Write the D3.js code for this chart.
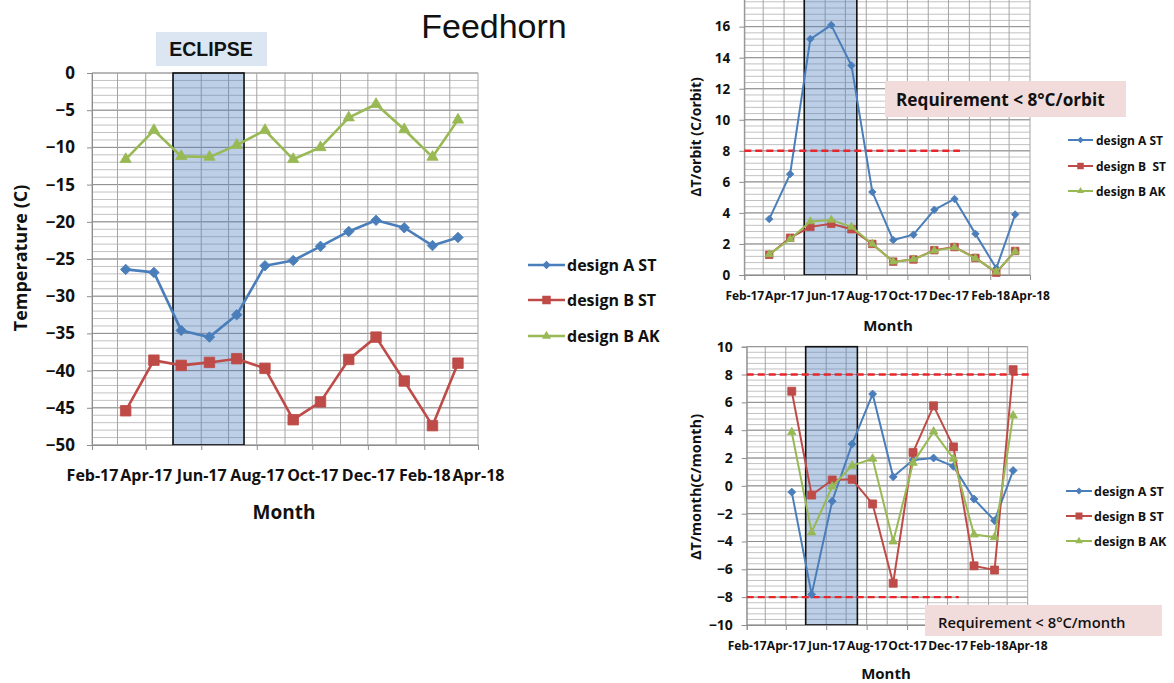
<!DOCTYPE html>
<html>
<head>
<meta charset="utf-8">
<script src="https://cdn.jsdelivr.net/npm/d3@7"></script>
<style>
  body { margin: 0; background: #fff; }
  svg { display: block; }
</style>
</head>
<body>
<svg id="fig" width="1174" height="683"></svg>
<script>
// ---- data ----------------------------------------------------------------
const seriesNames = ["design A ST", "design B ST", "design B AK"];
const orbitLegendNames = ["design A ST", "design B  ST", "design B AK"];

// monthly sample dates (temperature and per-orbit swing)
const sampleDates = ["2017-03-10", "2017-04-10", "2017-05-10", "2017-06-10", "2017-07-10",
  "2017-08-10", "2017-09-10", "2017-10-10", "2017-11-10", "2017-12-10",
  "2018-01-10", "2018-02-10", "2018-03-10"];
// month-to-month change dates
const changeDates = ["2017-04-10", "2017-05-10", "2017-06-10", "2017-07-10",
  "2017-08-10", "2017-09-10", "2017-10-10", "2017-11-10", "2017-12-10",
  "2018-01-10", "2018-02-10", "2018-03-10"];

// feedhorn temperature (C)
const tempA = [-26.4, -26.8, -34.6, -35.5, -32.5, -25.9, -25.2, -23.3, -21.3, -19.8, -20.8, -23.2, -22.1];
const tempB = [-45.4, -38.6, -39.3, -38.9, -38.4, -39.7, -46.6, -44.2, -38.5, -35.5, -41.4, -47.4, -39.0];
const tempK = [-11.6, -7.7, -11.2, -11.3, -9.7, -7.7, -11.6, -10.0, -6.0, -4.2, -7.6, -11.3, -6.3];

// temperature swing per orbit (C/orbit)
const orbitA = [3.6, 6.5, 15.2, 16.1, 13.5, 5.35, 2.25, 2.6, 4.2, 4.9, 2.65, 0.43, 3.9];
const orbitB = [1.3, 2.4, 3.1, 3.3, 2.95, 2.0, 0.86, 1.0, 1.6, 1.8, 1.1, 0.15, 1.55];
const orbitK = [1.33, 2.3, 3.45, 3.55, 3.1, 2.0, 0.86, 1.0, 1.57, 1.78, 1.07, 0.2, 1.5];

// temperature change per month (C/month)
const rateA = [-0.45, -7.8, -1.1, 3.0, 6.6, 0.65, 1.85, 2.0, 1.4, -0.95, -2.5, 1.1];
const rateB = [6.8, -0.66, 0.42, 0.47, -1.3, -7.0, 2.4, 5.75, 2.8, -5.75, -6.05, 8.35];
const rateK = [3.85, -3.35, -0.05, 1.45, 1.95, -4.0, 1.65, 3.9, 1.95, -3.5, -3.7, 5.05];

// axis ticks
const tickDates = ["2017-02-01", "2017-04-01", "2017-06-01", "2017-08-01",
  "2017-10-01", "2017-12-01", "2018-02-01", "2018-04-01"];
const tickLabels = ["Feb-17", "Apr-17", "Jun-17", "Aug-17", "Oct-17", "Dec-17", "Feb-18", "Apr-18"];
const tempTicks = [0, -5, -10, -15, -20, -25, -30, -35, -40, -45, -50];
const orbitTicks = [0, 2, 4, 6, 8, 10, 12, 14, 16, 18];
const rateTicks = [-10, -8, -6, -4, -2, 0, 2, 4, 6, 8, 10];

// eclipse season and requirement limits
const eclipse = ["2017-05-01", "2017-07-18"];
const orbitLimit = { value: 8, from: "2017-02-01", to: "2017-12-18" };
const rateLimits = [
  { value: 8, from: "2017-02-01", to: "2018-04-04" },
  { value: -8, from: "2017-02-01", to: "2017-12-18" }
];

// ---- drawing ---------------------------------------------------------------
const parse = d3.timeParse("%Y-%m-%d");
const FONT = "'Open Sans', 'Noto Sans', sans-serif";
const colors = ["#4A7EBB", "#BE4B48", "#98B954"];
const symbols = ["diamond", "square", "triangle"];
const svg = d3.select("#fig");

function markerPath(kind, s) {
  if (kind === "diamond") return d3.symbol().type(d3.symbolSquare).size(s * s / 2)();
  if (kind === "square") return d3.symbol().type(d3.symbolSquare).size(s * s)();
  return d3.symbol().type(d3.symbolTriangle).size(0.433 * s * s * 1.15)();
}
function markerTransform(kind, x, y) {
  return kind === "diamond" ? `translate(${x},${y}) rotate(45)` : `translate(${x},${y})`;
}

function drawPanel(p) {
  const g = svg.append("g");
  const x = d3.scaleTime()
    .domain([parse(tickDates[0]), parse(tickDates[tickDates.length - 1])])
    .range([p.left, p.right]);
  const y = d3.scaleLinear().domain(p.yDomain).range(p.yRange);
  const [ylo, yhi] = p.yDomain;

  // horizontal minor + major gridlines
  const minor = d3.range(ylo, yhi + 1e-6, p.minorStep);
  g.append("g").selectAll("line").data(minor).join("line")
    .attr("x1", p.left).attr("x2", p.right)
    .attr("y1", d => y(d)).attr("y2", d => y(d))
    .attr("stroke", "#c2c2c2").attr("stroke-width", 1);
  g.append("g").selectAll("line").data(p.yTicks).join("line")
    .attr("x1", p.left).attr("x2", p.right)
    .attr("y1", d => y(d)).attr("y2", d => y(d))
    .attr("stroke", "#8e8e8e").attr("stroke-width", 1);
  // vertical monthly gridlines
  const months = d3.timeMonth.range(x.domain()[0], d3.timeDay.offset(x.domain()[1], 1));
  g.append("g").selectAll("line").data(months).join("line")
    .attr("x1", d => x(d)).attr("x2", d => x(d))
    .attr("y1", y(ylo)).attr("y2", y(yhi))
    .attr("stroke", "#a4a4a4").attr("stroke-width", 1);

  // eclipse season
  g.append("rect")
    .attr("x", x(parse(eclipse[0]))).attr("y", y(yhi))
    .attr("width", x(parse(eclipse[1])) - x(parse(eclipse[0])))
    .attr("height", y(ylo) - y(yhi))
    .attr("fill", "#4F81BD").attr("fill-opacity", 0.38)
    .attr("stroke", "#111").attr("stroke-width", 1.6);

  // axes
  const ya = g.append("g").attr("transform", `translate(${p.left},0)`)
    .call(d3.axisLeft(y).tickValues(p.yTicks).tickSize(5).tickPadding(p.yPad).tickFormat(d3.format("d")));
  ya.select(".domain").attr("stroke", "#8e8e8e");
  ya.selectAll(".tick line").attr("stroke", "#8e8e8e");
  ya.selectAll("text").attr("font-family", FONT).attr("font-weight", 700)
    .attr("font-size", p.yFont).attr("fill", "#111");

  const xa = g.append("g").attr("transform", `translate(0,${y(ylo)})`)
    .call(d3.axisBottom(x).tickValues(tickDates.map(parse)).tickSize(5)
      .tickFormat((d, i) => tickLabels[i]));
  xa.select(".domain").attr("stroke", "#8e8e8e");
  xa.selectAll(".tick line").attr("stroke", "#8e8e8e");
  xa.selectAll("text").attr("font-family", FONT).attr("font-weight", 700)
    .attr("font-size", p.xFont).attr("fill", "#111")
    .attr("y", p.xLabelOffset).attr("dy", "0.35em");

  // requirement limits
  (p.limits || []).forEach(l => {
    g.append("line")
      .attr("x1", x(parse(l.from))).attr("x2", x(parse(l.to)))
      .attr("y1", y(l.value)).attr("y2", y(l.value))
      .attr("stroke", "#E8262B").attr("stroke-width", 2.4)
      .attr("stroke-dasharray", "7,4");
  });

  // series
  p.series.forEach((vals, si) => {
    const pts = vals.map((v, i) => [x(parse(p.dates[i])), y(v)]);
    g.append("path").attr("d", d3.line()(pts))
      .attr("fill", "none").attr("stroke", colors[si]).attr("stroke-width", p.lineWidth)
      .attr("stroke-linejoin", "round");
    g.append("g").selectAll("path").data(pts).join("path")
      .attr("d", markerPath(symbols[si], p.marker))
      .attr("transform", d => markerTransform(symbols[si], d[0], d[1]))
      .attr("fill", colors[si]).attr("stroke", colors[si]).attr("stroke-width", 0.8);
  });

  // axis titles
  g.append("text").text(p.yTitle)
    .attr("transform", `translate(${p.yTitlePos[0]},${p.yTitlePos[1]}) rotate(-90)`)
    .attr("text-anchor", "middle").attr("dominant-baseline", "central")
    .attr("font-family", FONT).attr("font-weight", 700).attr("font-size", p.yTitleFont).attr("fill", "#111");
  g.append("text").text("Month")
    .attr("x", p.xTitlePos[0]).attr("y", p.xTitlePos[1])
    .attr("text-anchor", "middle").attr("dominant-baseline", "central")
    .attr("font-family", FONT).attr("font-weight", 700).attr("font-size", p.xTitleFont).attr("fill", "#111");

  // legend
  const lg = g.append("g");
  p.legendNames.forEach((name, si) => {
    const ly = p.legend.rows[si];
    const [lx0, lx1] = p.legend.line;
    lg.append("line").attr("x1", lx0).attr("x2", lx1).attr("y1", ly).attr("y2", ly)
      .attr("stroke", colors[si]).attr("stroke-width", p.legend.lw);
    lg.append("path").attr("d", markerPath(symbols[si], p.legend.marker))
      .attr("transform", markerTransform(symbols[si], (lx0 + lx1) / 2, ly))
      .attr("fill", colors[si]);
    lg.append("text").text(name)
      .attr("x", p.legend.textX).attr("y", ly).attr("dominant-baseline", "central")
      .style("white-space", "pre")
      .attr("font-family", FONT).attr("font-weight", 700).attr("font-size", p.legend.font).attr("fill", "#111");
  });
}

// main panel: feedhorn temperature
drawPanel({
  left: 92, right: 478, yDomain: [-50, 0], yRange: [445, 73],
  yTicks: tempTicks, minorStep: 1, yPad: 12, yFont: 17, xFont: 16, xLabelOffset: 30,
  dates: sampleDates, series: [tempA, tempB, tempK], lineWidth: 2.6, marker: 10.5,
  yTitle: "Temperature (C)", yTitlePos: [20, 258], yTitleFont: 18,
  xTitlePos: [284, 512], xTitleFont: 19,
  legendNames: seriesNames,
  legend: { line: [528, 565], rows: [265, 300, 336], textX: 567, font: 16, lw: 2.6, marker: 8.5 }
});

// upper right panel: swing per orbit
drawPanel({
  left: 744.3, right: 1030, yDomain: [0, 18], yRange: [275, -4.4],
  yTicks: orbitTicks, minorStep: 0.4, yPad: 9, yFont: 13.5, xFont: 12, xLabelOffset: 21,
  dates: sampleDates, series: [orbitA, orbitB, orbitK], lineWidth: 2, marker: 7.5,
  limits: [orbitLimit],
  yTitle: "\u0394T/orbit (C/orbit)", yTitlePos: [695, 137], yTitleFont: 14,
  xTitlePos: [888, 325], xTitleFont: 15,
  legendNames: orbitLegendNames,
  legend: { line: [1068, 1093], rows: [140, 166, 191], textX: 1096, font: 12, lw: 2, marker: 6.5 }
});

// lower right panel: change per month
drawPanel({
  left: 746.7, right: 1027.7, yDomain: [-10, 10], yRange: [625, 346.7],
  yTicks: rateTicks, minorStep: 0.4, yPad: 9, yFont: 14, xFont: 12, xLabelOffset: 21,
  dates: changeDates, series: [rateA, rateB, rateK], lineWidth: 2, marker: 8,
  limits: rateLimits,
  yTitle: "\u0394T/month(C/month)", yTitlePos: [695, 487], yTitleFont: 14.5,
  xTitlePos: [886, 673], xTitleFont: 15,
  legendNames: seriesNames,
  legend: { line: [1066, 1092], rows: [491, 516, 541], textX: 1094, font: 12.5, lw: 2, marker: 7 }
});

// annotations
svg.append("text").text("Feedhorn")
  .attr("x", 494).attr("y", 38).attr("text-anchor", "middle")
  .attr("font-family", "'Liberation Sans', Arial, sans-serif").attr("font-size", 34).attr("fill", "#111");

svg.append("rect").attr("x", 156).attr("y", 32).attr("width", 111).attr("height", 34).attr("fill", "#DCE6F2");
svg.append("text").text("ECLIPSE")
  .attr("x", 211).attr("y", 56).attr("text-anchor", "middle")
  .attr("font-family", "'Liberation Sans', Arial, sans-serif").attr("font-weight", 700)
  .attr("font-size", 19.5).attr("fill", "#111");

svg.append("rect").attr("x", 885).attr("y", 81).attr("width", 241).attr("height", 36).attr("fill", "#F2DCDB");
svg.append("text").text("Requirement < 8\u00B0C/orbit")
  .attr("x", 896).attr("y", 99.5).attr("dominant-baseline", "central")
  .attr("font-family", FONT).attr("font-weight", 700).attr("font-size", 17.2).attr("fill", "#111");

svg.append("rect").attr("x", 925).attr("y", 605).attr("width", 237).attr("height", 31).attr("fill", "#F2DCDB");
svg.append("text").text("Requirement < 8\u00B0C/month")
  .attr("x", 938).attr("y", 621.5).attr("dominant-baseline", "central")
  .attr("font-family", FONT).attr("font-weight", 600).attr("font-size", 14.8).attr("fill", "#111");
</script>
</body>
</html>
